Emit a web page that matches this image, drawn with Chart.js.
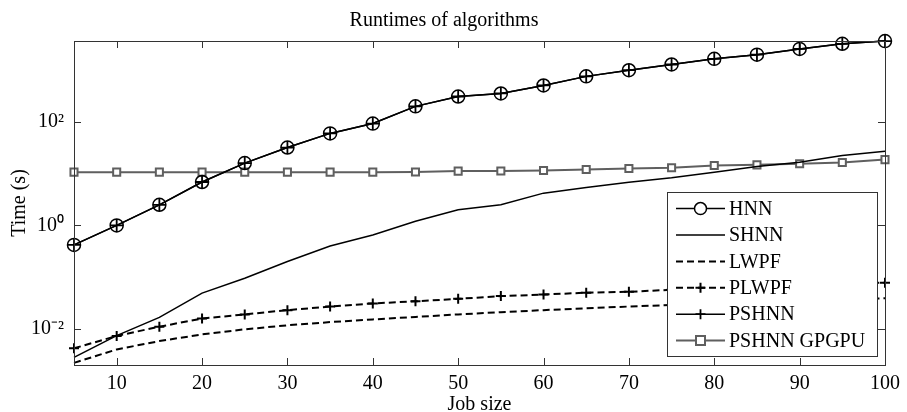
<!DOCTYPE html>
<html>
<head>
<meta charset="utf-8">
<script src="https://cdn.jsdelivr.net/npm/chart.js@4.4.0/dist/chart.umd.min.js"></script>
<style>
  html, body { margin: 0; padding: 0; background: #fff; }
  #wrap { width: 907px; height: 412px; }
</style>
</head>
<body>
<div id="wrap"><canvas id="runtimeChart" width="907" height="412"></canvas></div>
<script>
// job sizes
const jobSizes = [5, 10, 15, 20, 25, 30, 35, 40, 45, 50, 55, 60, 65, 70, 75, 80, 85, 90, 95, 100];

// runtimes (s)
const hnn    = [0.42, 1.0, 2.5, 6.9, 16, 32, 60, 93, 200, 310, 355, 507, 760, 1000, 1290, 1660, 2000, 2580, 3240, 3650];
const shnn   = [0.0028, 0.0074, 0.0167, 0.049, 0.095, 0.2, 0.4, 0.65, 1.2, 2.0, 2.5, 4.2, 5.4, 6.8, 8.3, 10.6, 13.8, 16.7, 22.5, 27];
const lwpf   = [0.0022, 0.004, 0.0058, 0.0078, 0.0098, 0.0117, 0.0135, 0.0152, 0.017, 0.019, 0.021, 0.023, 0.025, 0.027, 0.029, 0.031, 0.033, 0.035, 0.037, 0.039];
const plwpf  = [0.0042, 0.0073, 0.011, 0.0158, 0.019, 0.023, 0.027, 0.031, 0.034, 0.038, 0.043, 0.046, 0.05, 0.052, 0.057, 0.061, 0.066, 0.07, 0.074, 0.078];
const pshnn  = [0.42, 1.0, 2.5, 6.9, 16, 32, 60, 93, 200, 310, 355, 507, 760, 1000, 1290, 1660, 2000, 2580, 3240, 3650];
const gpgpu  = [10.7, 10.7, 10.7, 10.7, 10.7, 10.7, 10.7, 10.7, 10.8, 11.2, 11.3, 11.5, 12, 12.6, 13.0, 14.4, 14.8, 15.5, 16.5, 18.7];

// axis ticks
const xTicks = [10, 20, 30, 40, 50, 60, 70, 80, 90, 100];
const yTicks = [0.01, 1, 100];
const yTickLabels = ['10\u207B\u00B2', '10\u2070', '10\u00B2'];

const FONT = "'Liberation Serif', 'Times New Roman', serif";
const GRAY = '#5f5f5f';

function series(label, data, extra) {
    return Object.assign({
        label: label,
        data: data.map((v, i) => ({ x: jobSizes[i], y: v })),
        borderColor: '#000',
        backgroundColor: 'rgba(0,0,0,0)',
        borderWidth: 1.5,
        pointRadius: 0,
        pointHoverRadius: 0,
        tension: 0,
        clip: false
    }, extra);
}

const datasets = [
    series('HNN', hnn, { pointStyle: 'circle', pointRadius: 6.5, pointBorderWidth: 1.5, pointBorderColor: '#000', pointBackgroundColor: 'rgba(0,0,0,0)' }),
    series('SHNN', shnn, {}),
    series('LWPF', lwpf, { borderWidth: 2, borderDash: [7, 4] }),
    series('PLWPF', plwpf, { borderWidth: 2, borderDash: [7, 4], pointStyle: 'cross', pointRadius: 5, pointBorderWidth: 2, pointBorderColor: '#000' }),
    series('PSHNN', pshnn, { pointStyle: 'cross', pointRadius: 6.5, pointBorderWidth: 1.8, pointBorderColor: '#000' }),
    series('PSHNN GPGPU', gpgpu, { borderColor: GRAY, borderWidth: 2, pointStyle: 'rect', pointRadius: 5, pointBorderWidth: 2, pointBorderColor: GRAY, pointBackgroundColor: '#fff' })
];

// axes box with inward ticks (matlab style)
const framePlugin = {
    id: 'frame',
    afterDatasetsDraw(chart) {
        const { ctx, chartArea: a, scales } = chart;
        ctx.save();
        ctx.strokeStyle = '#333';
        ctx.lineWidth = 1;
        ctx.strokeRect(Math.round(a.left) + 0.5, Math.round(a.top) + 0.5, Math.round(a.right - a.left), Math.round(a.bottom - a.top));
        ctx.beginPath();
        const len = 7;
        xTicks.forEach(v => {
            const px = Math.round(scales.x.getPixelForValue(v)) + 0.5;
            ctx.moveTo(px, a.bottom); ctx.lineTo(px, a.bottom - len);
            ctx.moveTo(px, a.top); ctx.lineTo(px, a.top + len);
        });
        yTicks.forEach(v => {
            const py = Math.round(scales.y.getPixelForValue(v)) + 0.5;
            ctx.moveTo(a.left, py); ctx.lineTo(a.left + len, py);
            ctx.moveTo(a.right, py); ctx.lineTo(a.right - len, py);
        });
        ctx.stroke();
        ctx.restore();
    }
};

// legend box in lower right corner of the axes
const legendPlugin = {
    id: 'boxLegend',
    afterDraw(chart) {
        const { ctx, chartArea: a } = chart;
        const w = 210, rowH = 26.4;
        const right = a.right - 8, bottom = a.bottom - 9;
        const h = rowH * datasets.length + 6;
        const left = right - w, top = bottom - h;
        ctx.save();
        ctx.fillStyle = '#fff';
        ctx.fillRect(left, top, w, h);
        ctx.strokeStyle = '#333';
        ctx.lineWidth = 1;
        ctx.strokeRect(Math.round(left) + 0.5, Math.round(top) + 0.5, Math.round(w), Math.round(h));
        chart.data.datasets.forEach((ds, i) => {
            const y = top + 17 + i * rowH;
            const x0 = left + 9, x1 = left + 58, xm = (x0 + x1) / 2;
            ctx.strokeStyle = ds.borderColor;
            ctx.lineWidth = ds.borderWidth;
            ctx.setLineDash(ds.borderDash || []);
            ctx.beginPath();
            ctx.moveTo(x0, y); ctx.lineTo(x1, y);
            ctx.stroke();
            ctx.setLineDash([]);
            if (ds.pointRadius > 0) {
                ctx.strokeStyle = ds.pointBorderColor;
                ctx.lineWidth = ds.pointBorderWidth;
                ctx.fillStyle = ds.pointBackgroundColor || 'rgba(0,0,0,0)';
                ctx.beginPath();
                if (ds.pointStyle === 'circle') {
                    ctx.fillStyle = '#fff';
                    ctx.arc(xm, y, 6, 0, Math.PI * 2);
                    ctx.fill(); ctx.stroke();
                } else if (ds.pointStyle === 'rect') {
                    ctx.rect(xm - 4.5, y - 4.5, 9, 9);
                    ctx.fill(); ctx.stroke();
                } else {
                    ctx.moveTo(xm - 5, y); ctx.lineTo(xm + 5, y);
                    ctx.moveTo(xm, y - 5); ctx.lineTo(xm, y + 5);
                    ctx.stroke();
                }
            }
            ctx.fillStyle = '#000';
            ctx.font = '20px ' + FONT;
            ctx.textBaseline = 'middle';
            ctx.textAlign = 'left';
            ctx.fillText(ds.label, left + 62, y + 1);
        });
        ctx.restore();
    }
};

const ctx = document.getElementById('runtimeChart').getContext('2d');
const runtimeChart = new Chart(ctx, {
    type: 'line',
    data: { datasets: datasets },
    options: {
        responsive: false,
        animation: false,
        events: [],
        layout: { padding: { left: 0, right: 19, top: 0, bottom: 0 } },
        plugins: {
            legend: { display: false },
            tooltip: { enabled: false },
            title: {
                display: true,
                text: 'Runtimes of algorithms',
                color: '#000',
                font: { family: FONT, size: 20, weight: 'normal', lineHeight: 1.2 },
                padding: { top: 9, bottom: 8 }
            }
        },
        scales: {
            x: {
                type: 'linear',
                min: 5,
                max: 100,
                grid: { display: false, drawTicks: false },
                border: { display: false },
                afterBuildTicks: s => { s.ticks = xTicks.map(v => ({ value: v })); },
                afterFit: s => { s.height = 47; },
                ticks: { color: '#000', font: { family: FONT, size: 20 }, padding: 7, maxRotation: 0, autoSkip: false },
                title: { display: true, text: 'Job size', color: '#000', font: { family: FONT, size: 20 }, padding: { top: 0, bottom: -5 } }
            },
            y: {
                type: 'logarithmic',
                min: 0.002,
                max: 3670,
                grid: { display: false, drawTicks: false },
                border: { display: false },
                afterBuildTicks: s => { s.ticks = yTicks.map(v => ({ value: v })); },
                afterFit: s => { s.width = 74; },
                ticks: {
                    color: '#000',
                    font: { family: FONT, size: 20 },
                    padding: 10,
                    autoSkip: false,
                    callback: (v) => yTickLabels[yTicks.indexOf(v)] || ''
                },
                title: { display: true, text: 'Time (s)', color: '#000', font: { family: FONT, size: 20 }, padding: { top: 8, bottom: 0 } }
            }
        }
    },
    plugins: [framePlugin, legendPlugin]
});
</script>
</body>
</html>
